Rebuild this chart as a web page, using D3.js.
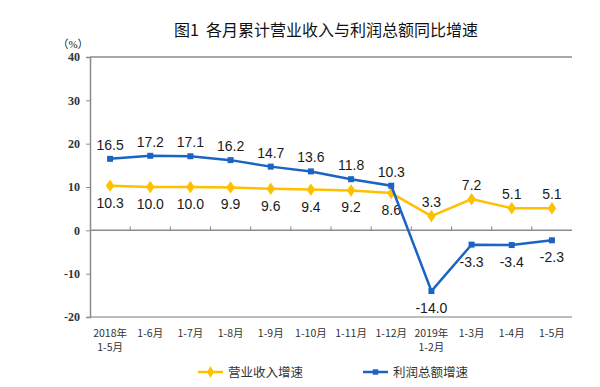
<!DOCTYPE html>
<html><head><meta charset="utf-8">
<script src="https://cdn.jsdelivr.net/npm/d3@7"></script>
<style>body{margin:0;background:#fff}svg{display:block}</style>
</head><body>
<script>
const categories = [["2018年","1-5月"],["1-6月"],["1-7月"],["1-8月"],["1-9月"],["1-10月"],["1-11月"],["1-12月"],["2019年","1-2月"],["1-3月"],["1-4月"],["1-5月"]];
const revenue = [10.3,10.0,10.0,9.9,9.6,9.4,9.2,8.6,3.3,7.2,5.1,5.1];
const profit = [16.5,17.2,17.1,16.2,14.7,13.6,11.8,10.3,-14.0,-3.3,-3.4,-2.3];
const revenueLabelAbove = [false,false,false,false,false,false,false,false,true,true,true,true];
const profitLabelAbove = [true,true,true,true,true,true,true,true,false,false,false,false];
const yTicks = [-20,-10,0,10,20,30,40];
const seriesNames = ["营业收入增速","利润总额增速"];
const title = "图1 各月累计营业收入与利润总额同比增速";

(function(){
const W=600,H=387;
const pL=90,pR=572,pT=57,pB=317;
const svg=d3.select("body").append("svg").attr("width",W).attr("height",H);
const x=d3.scaleBand().domain(d3.range(categories.length)).range([pL,pR]);
const y=d3.scaleLinear().domain([-20,40]).range([pB,pT]);
const YEL="#ffc000",BLU="#1c64c4",AX="#8c8c8c";

svg.append("text").attr("x",326).attr("y",36).attr("text-anchor","middle").style("white-space","pre")
  .attr("font-family","'Noto Sans CJK SC'").attr("font-size",16).attr("fill","#111").text(title.replace(" ","\u00a0\u00a0"));
svg.append("text").attr("x",73).attr("y",48).attr("text-anchor","middle")
  .attr("font-family","'Liberation Serif','Noto Sans CJK SC'").attr("font-size",11).attr("fill","#222").text("（%）");

svg.append("line").attr("x1",pL).attr("x2",pR).attr("y1",y(40)).attr("y2",y(40)).attr("stroke",AX).attr("stroke-width",1.5);
svg.append("line").attr("x1",pL).attr("x2",pR).attr("y1",y(-20)).attr("y2",y(-20)).attr("stroke","#a6a6a6").attr("stroke-width",1.5);

const yAxis=d3.axisLeft(y).tickValues(yTicks).tickSize(4).tickFormat(d=>d);
const ga=svg.append("g").attr("transform",`translate(${pL},0)`).call(yAxis);
ga.select(".domain").attr("stroke",AX).attr("stroke-width",1.5);
ga.selectAll(".tick line").attr("stroke",AX);
ga.selectAll(".tick text").attr("font-family","'Liberation Serif'").attr("font-size",12).attr("font-weight","bold").attr("fill","#333").attr("x",-10);

const gz=svg.append("g").attr("transform",`translate(0,${y(0)})`);
gz.append("line").attr("x1",pL).attr("x2",pR).attr("stroke",AX).attr("stroke-width",1.5);
gz.selectAll("line.t").data(d3.range(1,categories.length)).join("line").attr("class","t")
  .attr("x1",i=>x(i)).attr("x2",i=>x(i)).attr("y1",-4).attr("y2",0).attr("stroke",AX);

const gx=svg.append("g");
categories.forEach((c,i)=>{
  c.forEach((t,j)=>{
    gx.append("text").attr("x",x(i)+x.bandwidth()/2).attr("y",337+j*14).attr("text-anchor","middle")
      .attr("font-family","'Noto Sans CJK SC'").attr("font-size",10.5).attr("fill","#333").text(t);
  });
});

const line=d3.line().x((d,i)=>x(i)+x.bandwidth()/2).y(d=>y(d));
function series(data,color,shape,above){
  svg.append("path").datum(data).attr("d",line).attr("fill","none").attr("stroke",color).attr("stroke-width",2.5);
  svg.selectAll(null).data(data).join("path")
    .attr("d",d3.symbol().type(shape).size(shape===d3.symbolSquare?36:44))
    .attr("transform",(d,i)=>`translate(${x(i)+x.bandwidth()/2},${y(d)})${shape===d3.symbolDiamond?" scale(1.2,1)":""}`)
    .attr("fill",color);
  svg.selectAll(null).data(data).join("text")
    .attr("x",(d,i)=>x(i)+x.bandwidth()/2).attr("y",(d,i)=>y(d)+(above[i]?-9:22))
    .attr("text-anchor","middle").attr("font-family","'Liberation Sans'").attr("font-size",14).attr("fill","#1a1a1a")
    .text(d=>d.toFixed(1));
}
series(revenue,YEL,d3.symbolDiamond,revenueLabelAbove);
series(profit,BLU,d3.symbolSquare,profitLabelAbove);

const lg=[{n:seriesNames[0],c:YEL,s:d3.symbolDiamond,x:198},{n:seriesNames[1],c:BLU,s:d3.symbolSquare,x:363}];
lg.forEach(l=>{
  svg.append("line").attr("x1",l.x).attr("x2",l.x+25).attr("y1",372).attr("y2",372).attr("stroke",l.c).attr("stroke-width",2.5);
  svg.append("path").attr("d",d3.symbol().type(l.s).size(l.s===d3.symbolSquare?30:40)).attr("transform",`translate(${l.x+12.5},372)`).attr("fill",l.c);
  svg.append("text").attr("x",l.x+30).attr("y",377).attr("font-family","'Noto Sans CJK SC'").attr("font-size",12.5).attr("fill","#333").text(l.n);
});
})();
</script>
</body></html>
